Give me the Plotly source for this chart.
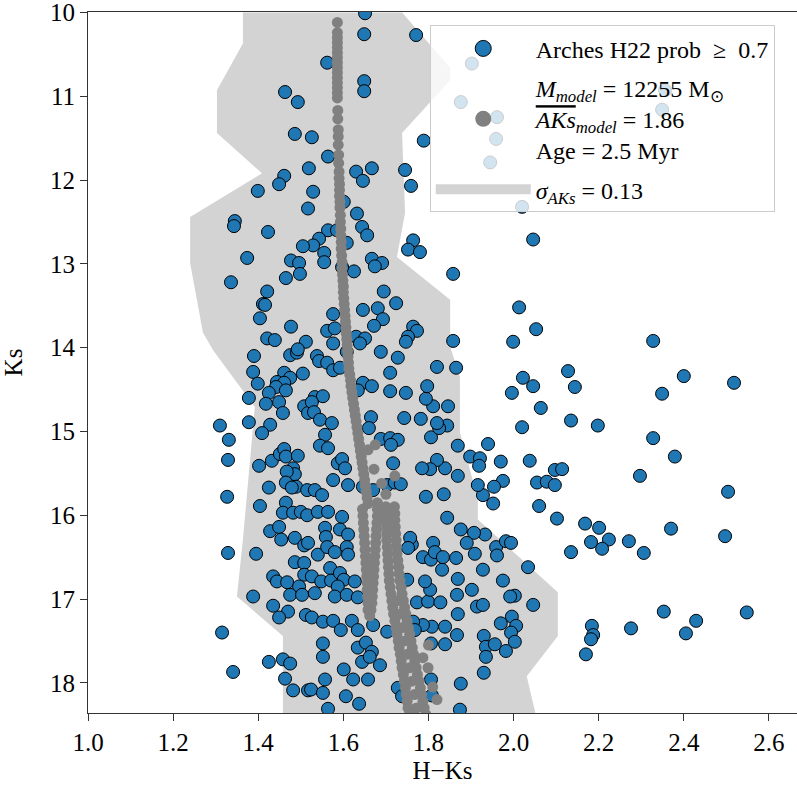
import plotly.graph_objects as go

FONT = "Liberation Serif, serif"

# ---------------- data ----------------
# Arches cluster members (H-Ks, Ks)
members = [
    (1.651,10.01),(1.649,10.26),(1.771,10.27),(1.562,10.60),(1.649,10.82),(1.649,10.94),(1.463,10.95),
    (1.493,11.07),(1.486,11.45),(1.526,11.49),(1.789,11.53),(1.564,11.72),(1.519,11.86),(1.630,11.90),
    (1.667,11.86),(1.745,11.88),(1.646,12.01),(1.461,11.95),(1.449,12.05),(1.759,12.07),(1.399,12.13),
    (1.529,12.14),(1.517,12.34),(1.601,12.26),(1.632,12.40),(1.345,12.49),(1.343,12.55),(1.423,12.62),
    (1.564,12.60),(1.585,12.60),(1.644,12.56),(1.656,12.66),(1.764,12.72),(1.752,12.83),(1.780,12.86),
    (1.543,12.70),(1.529,12.78),(1.505,12.79),(1.608,12.75),(1.374,12.93),(1.555,12.87),(1.555,12.98),
    (1.477,12.96),(1.496,12.99),(1.667,12.94),(1.691,12.99),(1.674,13.03),(1.625,13.09),(1.858,13.12),
    (1.336,13.22),(1.465,13.17),(1.498,13.12),(1.597,13.04),(1.695,13.33),(1.421,13.33),(1.411,13.48),
    (1.416,13.49),(1.724,13.47),(1.646,13.55),(1.681,13.53),(1.693,13.66),(1.404,13.65),(1.576,13.60),
    (1.477,13.75),(1.672,13.74),(1.764,13.75),(1.773,13.80),(1.752,13.87),(1.747,13.93),(1.858,13.92),
    (1.562,13.80),(1.580,13.77),(1.421,13.89),(1.439,13.91),(1.512,13.93),(1.576,13.95),(1.630,13.87),
    (1.651,13.89),(1.639,13.95),(1.688,14.05),(1.728,14.12),(1.390,14.10),(1.475,14.09),(1.491,14.06),
    (1.538,14.10),(1.608,14.05),
    (1.902,10.61),(1.876,11.07),(1.961,11.25),(1.959,11.51),(1.945,11.79),(2.020,12.32),(2.356,10.93),
    (2.349,11.16),
    (2.046,12.71),(2.013,13.52),(2.053,13.78),(1.999,13.93),(2.328,13.92),(2.128,14.28),(2.022,14.36),
    (2.046,14.46),(1.996,14.54),(2.144,14.47),(2.400,14.34),(2.518,14.42),(2.349,14.55),(2.064,14.72),
    (2.135,14.87),(2.198,14.93),(2.020,14.95),(2.328,15.08),(2.379,15.30),(2.297,15.53),(2.504,15.72),
    (2.370,16.16),(2.497,16.25),(2.038,15.35),(1.970,15.36),(1.940,15.15),(2.055,15.61),(2.097,15.46),
    (2.114,15.45),(2.078,15.60),(2.097,15.64),(1.975,15.59),(1.954,15.66),(1.928,15.76),(1.952,15.86),
    (1.916,15.64),(1.898,15.30),(1.921,15.32),(1.919,15.41),(2.060,15.89),(2.102,16.04),(2.168,16.10),
    (2.201,16.15),(2.224,16.29),(2.182,16.32),(2.208,16.40),(2.271,16.31),(2.306,16.45),(2.135,16.44),
    (2.034,16.62),(1.975,16.78),(2.003,16.96),(1.992,16.97),(2.046,17.07),(2.353,17.15),(2.548,17.16),
    (2.429,17.26),(2.405,17.41),(2.276,17.35),(2.184,17.32),(2.187,17.43),(2.182,17.48),(2.170,17.66),
    (1.996,17.21),(2.006,17.32),(1.970,17.29),(1.994,17.40),(2.003,17.51),(1.982,17.62),(1.930,17.44),
    (1.935,17.57),(1.935,17.69),(1.956,17.54),(1.930,17.88),(1.876,18.01),(1.806,17.96),(1.869,16.76),
    (1.867,16.95),(1.902,16.89),(1.914,17.09),(1.928,17.07),(1.869,17.18),(1.839,17.33),(1.867,17.43),
    (1.839,17.54),(1.808,17.33),(1.806,17.53),(1.787,17.31),(1.773,17.04),(1.799,17.03),(1.828,17.04),
    (1.804,16.89),(1.792,16.79),(1.750,16.77),(1.928,16.65),(1.959,16.38),(1.961,16.48),(1.909,16.46),
    (1.933,16.23),(1.907,16.21),(1.890,16.33),(1.876,16.17),(1.844,16.03),(1.865,16.51),(1.832,16.65),
    (1.811,16.33),(1.787,16.50),(1.806,16.53),(1.815,16.44),(1.834,16.50),(1.761,16.35),(1.757,16.27),
    (1.752,16.39),(1.794,15.78),(1.836,15.75),(1.869,15.53),(1.839,15.44),(1.820,15.34),(1.804,15.45),
    (1.785,15.44),(1.869,15.17),(1.806,15.07),(1.844,14.93),(1.825,14.96),(1.820,14.90),(1.782,14.85),
    (1.743,14.84),(1.846,14.70),(1.811,14.70),(1.794,14.61),(1.797,14.46),(1.747,14.54),(1.820,14.23),
    (1.865,14.24),(1.982,16.31),(1.994,16.33),(1.874,18.32),(1.808,18.15),
    (1.493,14.02),(1.388,14.29),(1.399,14.43),(1.505,14.31),(1.461,14.30),(1.475,14.36),(1.444,14.41),
    (1.461,14.42),(1.442,14.47),(1.465,14.51),(1.425,14.54),(1.378,14.60),(1.418,14.67),(1.449,14.65),
    (1.458,14.78),(1.508,14.70),(1.517,14.78),(1.378,14.89),(1.310,14.93),(1.331,15.10),(1.428,14.92),
    (1.409,15.02),(1.329,15.34),(1.402,15.41),(1.432,15.35),(1.451,15.27),(1.461,15.21),(1.465,15.30),
    (1.493,15.29),(1.482,15.44),(1.486,15.51),(1.467,15.48),(1.465,15.61),(1.489,15.66),(1.479,15.67),
    (1.425,15.67),(1.515,15.70),(1.327,15.78),(1.404,15.89),(1.465,15.85),(1.458,15.97),(1.482,15.97),
    (1.500,15.96),(1.515,16.00),
    (1.329,16.45),(1.395,16.46),(1.388,16.97),(1.315,17.40),(1.341,17.87),(1.428,16.19),(1.449,16.14),
    (1.454,16.29),(1.486,16.27),(1.508,16.36),(1.486,16.56),(1.508,16.57),(1.435,16.73),(1.444,16.79),
    (1.468,16.80),(1.508,16.71),(1.496,16.85),(1.475,16.95),(1.503,16.95),(1.435,17.08),(1.470,17.15),
    (1.449,17.22),(1.512,17.19),(1.425,17.75),(1.458,17.72),(1.475,17.77),(1.463,17.95),(1.482,18.09),
    (1.517,18.09),
    (1.543,14.16),(1.562,14.18),(1.576,14.27),(1.592,14.24),(1.710,14.30),(1.646,14.42),(1.667,14.46),
    (1.634,14.51),(1.710,14.52),(1.533,14.59),(1.552,14.58),(1.526,14.65),(1.531,14.77),(1.545,14.86),
    (1.573,14.90),(1.665,14.83),(1.660,14.96),(1.557,15.04),(1.545,15.17),(1.564,15.20),(1.688,15.09),
    (1.710,15.08),(1.728,15.10),(1.712,15.16),(1.717,15.38),(1.587,15.38),(1.597,15.33),(1.604,15.44),
    (1.576,15.58),(1.611,15.64),(1.703,15.64),(1.721,15.61),(1.735,15.63),(1.670,15.70),(1.646,15.66),
    (1.533,15.70),(1.550,15.76),(1.540,15.96),(1.564,15.96),(1.597,16.02),
    (1.557,16.15),(1.559,16.26),(1.592,16.17),(1.611,16.23),(1.517,16.33),(1.540,16.47),(1.562,16.38),
    (1.580,16.44),(1.608,16.38),(1.611,16.47),(1.569,16.63),(1.526,16.73),(1.548,16.79),(1.571,16.78),
    (1.592,16.69),(1.601,16.77),(1.587,16.85),(1.627,16.79),(1.533,16.93),(1.580,16.97),(1.608,16.95),
    (1.634,16.98),(1.526,17.22),(1.552,17.27),(1.576,17.26),(1.620,17.26),(1.594,17.37),(1.634,17.37),
    (1.670,17.31),(1.703,17.39),(1.764,17.27),(1.768,17.37),(1.552,17.53),(1.552,17.69),(1.634,17.58),
    (1.653,17.52),(1.667,17.63),(1.644,17.75),(1.686,17.79),(1.662,17.69),(1.601,17.84),(1.623,17.96),
    (1.658,17.96),(1.557,17.96),(1.524,18.08),(1.552,18.12),(1.606,18.16),(1.637,18.25),(1.564,18.31),
    (1.728,18.06),(1.738,18.16),
]
member_hks = [p[0] for p in members]
member_ks = [p[1] for p in members]

# Model isochrone / synthetic cluster (H-Ks, Ks), split into strokes
iso_main_ks = [10.12,10.24,10.30,10.36,10.42,10.48,10.54,10.60,10.66,10.72,10.78,10.84,10.90,10.96,11.02,
               11.17,11.27,11.40,11.48,11.58,11.70,11.80,11.90,11.98,12.05,12.12,12.19,12.26,12.33,12.42,
               12.50,12.58,12.66,12.74,12.82,12.90,12.98,13.06,13.13,13.20,13.27,13.34,13.41,13.48,13.55,
               13.62,13.69,13.76,13.83,13.90,13.97,14.04,14.11,14.18,14.25,14.32,14.39,14.46,14.53,14.60,
               14.67,14.74,14.81,14.88,14.95,15.02,15.09,15.16,15.23,15.30,15.37,15.44,15.51,15.58,15.65,
               15.72,15.79,15.86]
iso_main_hks = [1.586,1.586,1.586,1.586,1.586,1.586,1.586,1.586,1.586,1.586,1.586,1.586,1.586,1.586,1.586,
                1.587,1.587,1.588,1.588,1.588,1.589,1.589,1.590,1.590,1.591,1.591,1.591,1.592,1.592,1.593,
                1.593,1.594,1.594,1.595,1.595,1.596,1.597,1.597,1.598,1.599,1.600,1.600,1.601,1.602,1.603,
                1.604,1.605,1.606,1.607,1.608,1.609,1.610,1.611,1.612,1.613,1.615,1.617,1.618,1.620,1.622,
                1.624,1.626,1.628,1.630,1.632,1.634,1.636,1.638,1.640,1.642,1.644,1.646,1.648,1.650,1.652,
                1.654,1.656,1.658]
iso_extra_ks = [15.22,15.16,15.53,15.62,15.75,15.45,15.85,17.70,17.82,18.20,18.05,17.55]
iso_extra_hks = [1.658,1.675,1.721,1.690,1.700,1.672,1.680,1.787,1.799,1.820,1.810,1.800]

iso_low_ks = [15.93,16.01,16.09,16.17,16.25,16.33,16.41,16.49,16.57,16.65,16.73,16.81,16.89,16.97,17.05,17.13]
iso_low_a = [1.645,1.646,1.647,1.648,1.649,1.650,1.651,1.652,1.653,1.654,1.655,1.656,1.656,1.657,1.658,1.658]
iso_low_b = [1.680,1.680,1.679,1.678,1.677,1.676,1.675,1.674,1.673,1.672,1.671,1.670,1.669,1.668,1.667,1.665]
iso_tip_ks = [17.20]
iso_tip_hks = [1.662]

iso_pms_ks = [15.90,15.98,16.06,16.14,16.22,16.30,16.38,16.46,16.54,16.62,16.70,16.78,16.86,16.94,17.02,17.10,
              17.18,17.26,17.34,17.42,17.50,17.58,17.66,17.74,17.82,17.90,17.98,18.06,18.14,18.22,18.30,18.38]
iso_pms_l = [1.700,1.701,1.701,1.702,1.702,1.702,1.703,1.704,1.705,1.706,1.707,1.708,1.710,1.712,1.714,1.716,
             1.718,1.721,1.724,1.726,1.729,1.731,1.734,1.736,1.738,1.741,1.743,1.746,1.748,1.750,1.752,1.755]
iso_pms_r = [1.720,1.721,1.721,1.722,1.723,1.724,1.725,1.726,1.728,1.730,1.731,1.733,1.736,1.738,1.741,1.744,
             1.747,1.750,1.753,1.756,1.759,1.762,1.765,1.768,1.771,1.774,1.778,1.781,1.784,1.787,1.790,1.794]
iso_mid_ks = [17.02,17.18,17.34,17.50,17.66,17.82,17.98,18.14,18.30]
iso_mid_hks = [1.728,1.733,1.739,1.744,1.750,1.755,1.761,1.767,1.772]

iso_ks = iso_main_ks + iso_extra_ks + iso_low_ks + iso_low_ks + iso_tip_ks + iso_pms_ks + iso_pms_ks + iso_mid_ks
iso_hks = iso_main_hks + iso_extra_hks + iso_low_a + iso_low_b + iso_tip_hks + iso_pms_l + iso_pms_r + iso_mid_hks

# sigma_AKs envelope
band_left_ks = [10.00,10.37,10.93,11.44,11.92,12.44,12.99,13.82,14.03,14.71,16.29,16.97,17.44,18.40]
band_left = [1.364,1.364,1.303,1.303,1.409,1.240,1.240,1.270,1.294,1.392,1.364,1.350,1.458,1.458]
band_right_ks = [10.00,10.66,10.81,11.44,12.39,12.92,13.43,13.99,14.35,15.01,15.81,16.05,16.92,17.44,17.92,18.40]
band_right = [1.738,1.851,1.851,1.738,1.745,1.726,1.851,1.851,1.874,1.874,1.916,1.916,2.104,2.104,2.031,2.053]

x_ticks = [1.0, 1.2, 1.4, 1.6, 1.8, 2.0, 2.2, 2.4, 2.6]
y_ticks = [10, 11, 12, 13, 14, 15, 16, 17, 18]

label_members = "Arches H22 prob  ≥  0.7"
label_model = ("<i>M</i><sub><i>model</i></sub> = 12255 M<sub>⊙</sub><br>"
               "<span style='text-decoration:overline'><i>AKs</i></span><sub><i>model</i></sub> = 1.86<br>"
               "Age = 2.5 Myr")
label_sigma = "<i>σ</i><sub><i>AKs</i></sub> = 0.13"

BLUE = "#1f77b4"
GREY = "#808080"
BAND = "#d3d3d3"

# ---------------- figure ----------------
fig = go.Figure()

fig.add_trace(go.Scatter(
    x=band_left + band_right[::-1],
    y=band_left_ks + band_right_ks[::-1],
    fill="toself", fillcolor=BAND, mode="none",
    name=label_sigma, showlegend=False,
))

fig.add_trace(go.Scatter(
    x=member_hks, y=member_ks, mode="markers",
    marker=dict(size=13, color=BLUE, line=dict(color="black", width=1)),
    name=label_members, showlegend=False,
))

fig.add_trace(go.Scatter(
    x=iso_hks, y=iso_ks, mode="markers",
    marker=dict(size=11, color=GREY),
    name=label_model, showlegend=False,
))

# legend entries (larger symbols, as in the original legend)
fig.add_trace(go.Scatter(
    x=[None], y=[None], mode="markers",
    marker=dict(size=17, color=BLUE, line=dict(color="black", width=1)),
    name=label_members, legendrank=1, legendgroup="members",
))
fig.add_trace(go.Scatter(
    x=[None], y=[None], mode="markers",
    marker=dict(size=17, color=GREY),
    name=label_model, legendrank=2, legendgroup="model",
))
fig.add_trace(go.Scatter(
    x=[None], y=[None], mode="lines",
    line=dict(color=BAND, width=17),
    name=label_sigma, legendrank=3, legendgroup="sigma",
))

fig.update_layout(
    width=797, height=787,
    margin=dict(l=88, r=0, t=12, b=74),
    paper_bgcolor="white", plot_bgcolor="white",
    font=dict(family=FONT, size=22, color="black"),
    showlegend=True,
    legend=dict(
        x=0.482, y=0.981, xanchor="left", yanchor="top",
        bgcolor="rgba(255,255,255,0.8)", bordercolor="#cccccc", borderwidth=1,
        font=dict(family=FONT, size=24, color="black"),
        itemwidth=95, tracegroupgap=5,
    ),
    xaxis=dict(
        range=[1.0, 2.666], tickvals=x_ticks, ticktext=[f"{v:.1f}" for v in x_ticks],
        showgrid=False, zeroline=False, showline=True, linecolor="#333", linewidth=1, mirror=True,
        ticks="outside", ticklen=7, tickwidth=1, tickcolor="#333",
        tickfont=dict(family=FONT, size=25), ticklabeloverflow="allow",
        title=dict(text="H−Ks", font=dict(family=FONT, size=25), standoff=6),
    ),
    yaxis=dict(
        range=[18.36, 9.995], tickvals=y_ticks,
        showgrid=False, zeroline=False, showline=True, linecolor="#333", linewidth=1,
        ticks="outside", ticklen=7, tickwidth=1, tickcolor="#333",
        tickfont=dict(family=FONT, size=25), ticklabeloverflow="allow",
        title=dict(text="Ks", font=dict(family=FONT, size=25), standoff=20),
    ),
)

fig.write_html("out.html")
